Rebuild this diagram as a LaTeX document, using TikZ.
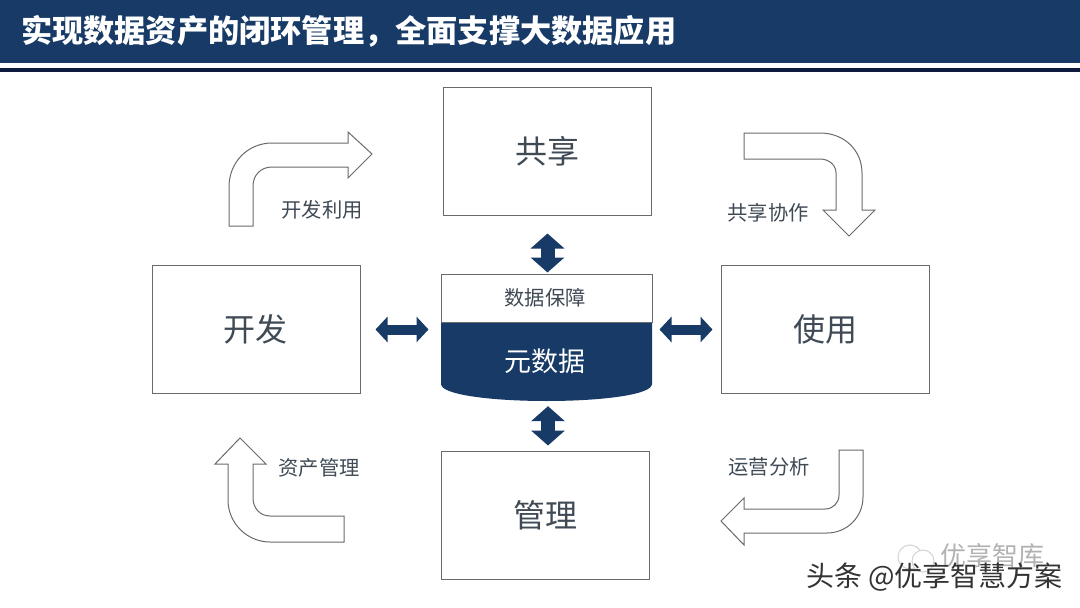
\documentclass[tikz,border=0pt]{standalone}
\usepackage{fontspec}
\setmainfont{Noto Sans CJK SC}
\usepackage{xcolor}
\usetikzlibrary{arrows.meta}
\usetikzlibrary{positioning}

\definecolor{navy}{HTML}{183A66}
\definecolor{darkline}{HTML}{0C1A40}
\definecolor{edgegray}{HTML}{6A6A6A}
\definecolor{textgray}{HTML}{3F4A55}

\begin{document}
\begin{tikzpicture}[
    x=1pt, y=-1pt,
    box/.style={draw=edgegray, line width=1pt, minimum width=208pt, minimum height=128pt, inner sep=0pt, text=textgray, font=\fontsize{32}{32}\selectfont},
    caption/.style={text=textgray, inner sep=0pt, font=\fontsize{20.3}{20}\selectfont},
    bent/.style={draw=edgegray, line width=1pt, fill=white, line join=miter},
    vlink/.style={{Triangle[width=33pt,length=15pt]}-{Triangle[width=33pt,length=15pt]}, navy, line width=14pt},
    hlink/.style={{Triangle[width=25pt,length=12pt]}-{Triangle[width=25pt,length=12pt]}, navy, line width=10pt}
]
  \useasboundingbox (0,0) rectangle (1080,608);

  % Title band
  \fill[navy] (0,0) rectangle (1080,63);
  \fill[darkline] (0,68) rectangle (1080,72);
  \node[anchor=west, inner sep=0pt, text=white, font=\fontsize{31.2}{31}\selectfont\bfseries] (title) at (21,31) {实现数据资产的闭环管理，全面支撑大数据应用};

  % Outer boxes
  \node[box] (share) at (547.5,151) {共享};
  \node[box] (dev) at (256,329.5) {\hspace*{-2pt}开发};
  \node[box] (use) at (825,329.5) {使用};
  \node[box] (manage) at (545,515) {管理};

  % Metadata cylinder
  \fill[navy] (441,322) -- (652,322) -- (652,384) .. controls (652,395) and (600,401) .. (546.5,401)
      .. controls (493,401) and (441,395) .. (441,384) -- cycle;
  \node[draw=edgegray, line width=1pt, minimum width=211pt, minimum height=48pt, inner sep=0pt, text=textgray, font=\fontsize{20.3}{20}\selectfont] (guard) at (546.5,298) {\hspace*{-3pt}数据保障};
  \node[minimum width=211pt, minimum height=79pt, inner sep=0pt, text=white, font=\fontsize{27}{27}\selectfont] (meta) at (546.5,361.5) {\hspace*{-3pt}元数据};

  % Double arrows
  \draw[vlink, shorten <=18pt, shorten >=1pt] (share.south) -- (share.south |- guard.north);
  \draw[vlink, shorten <=5pt, shorten >=5pt] ([xshift=1.5pt]meta.south) -- ([xshift=1.5pt]meta.south |- manage.north);
  \draw[hlink, shorten <=15pt, shorten >=12pt] (dev.east) -- (dev.east -| guard.west);
  \draw[hlink, shorten <=7pt, shorten >=8pt] (use.west -| guard.east) -- (use.west);

  % Bent arrows
  \draw[bent] (229,226) -- (253,226) -- (253,186) .. controls (253,175) and (261,167) .. (272,167)
      -- (348,167) -- (348,178) -- (372,154) -- (348,132) -- (348,143) -- (272,143)
      .. controls (248,143) and (229,162) .. (229,187) -- cycle;
  \draw[bent] (744,133) -- (820,133) .. controls (844,133) and (862,150) .. (862,173)
      -- (862,210) -- (875,210) -- (849,236) -- (823,210) -- (836,210) -- (836,173)
      .. controls (836,165) and (829,159) .. (820,159) -- (744,159) -- cycle;
  \draw[bent] (839,450) -- (863,450) -- (863,497) .. controls (863,517) and (847,533) .. (827,533)
      -- (744,533) -- (744,545) -- (721,521) -- (744,498) -- (744,509) -- (825,509)
      .. controls (833,509) and (839,503) .. (839,495) -- cycle;
  \draw[bent] (240,438) -- (266,464) -- (253,464) -- (253,498) .. controls (253,508) and (260,516) .. (270,516)
      -- (344,516) -- (344,542) -- (270,542) .. controls (247,542) and (228,523) .. (228,500)
      -- (228,464) -- (215,464) -- cycle;

  % Arrow captions
  \node[caption] (devcap) at (322,209.5) {开发利用};
  \node[caption] (sharecap) at (768,212.5) {共享协作};
  \node[caption] (opscap) at (769,466.5) {运营分析};
  \node[caption] (assetcap) at (319,467.5) {资产管理};

  % Watermarks
  \draw[gray!35, line width=1pt] (910,557) circle (12pt);
  \draw[gray!35, line width=1pt, fill=white] (923,561) circle (11pt);
  \node[inner sep=0pt, text=gray!60, font=\fontsize{26}{26}\selectfont] (wmold) at (992,556) {优享智库};
  \node[anchor=east, inner sep=0pt, text=black!80, font=\fontsize{28}{28}\selectfont] (wm) at (1063,577) {头条 @优享智慧方案};
\end{tikzpicture}
\end{document}
